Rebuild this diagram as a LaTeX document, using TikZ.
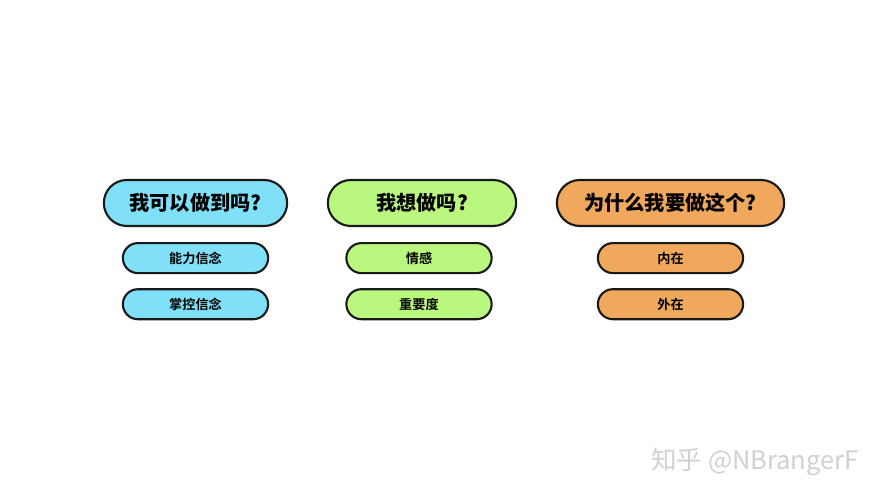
\documentclass[tikz,border=0pt]{standalone}
\usepackage{fontspec}
\newfontfamily\cjk{Noto Sans CJK SC Black}
\newfontfamily\cjkbold{Noto Sans CJK SC Bold}
\newfontfamily\cjklight{Noto Sans CJK SC}
\usetikzlibrary{positioning,shapes.misc}
\definecolor{askblue}{HTML}{7FE0F7}
\definecolor{askgreen}{HTML}{BAF77F}
\definecolor{askorange}{HTML}{F0A85C}
\tikzset{
  question/.style={rounded rectangle, draw=black!90, line width=1.2pt,
    minimum height=0.92cm, font=\cjk\fontsize{11.5}{13}\selectfont},
  answer/.style={rounded rectangle, draw=black!90, line width=1.2pt,
    minimum height=0.6cm, minimum width=3.14cm, font=\cjkbold\fontsize{7.5}{9}\selectfont}
}
\begin{document}
\begin{tikzpicture}
  \useasboundingbox[fill=white] (0,0) rectangle (17.78,10);
  % questions
  \node[question, fill=askblue, minimum width=3.9cm] (can) at (3.91,5.94) {我可以做到吗?};
  \node[question, fill=askgreen, minimum width=4.0cm] (want) at (8.44,5.94) {我想做吗?};
  \node[question, fill=askorange, minimum width=4.78cm] (why) at (13.41,5.94) {为什么我要做这个?};
  % answers
  \node[answer, fill=askblue, below=0.3cm of can] (ability) {能力信念};
  \node[answer, fill=askblue, below=0.28cm of ability] (control) {掌控信念};
  \node[answer, fill=askgreen, below=0.3cm of want, xshift=-0.06cm] (emotion) {情感};
  \node[answer, fill=askgreen, below=0.28cm of emotion] (importance) {重要度};
  \node[answer, fill=askorange, below=0.3cm of why] (inner) {内在};
  \node[answer, fill=askorange, below=0.28cm of inner] (outer) {外在};
  % watermark
  \node[text=black!18, font=\cjklight\fontsize{14.5}{16}\selectfont] (mark) at (15.1,0.76) {知乎 @NBrangerF};
\end{tikzpicture}
\end{document}
